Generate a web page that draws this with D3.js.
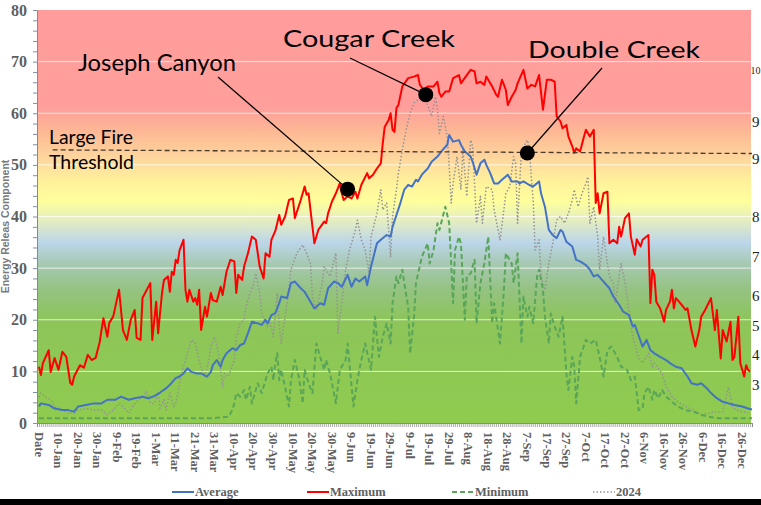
<!DOCTYPE html>
<html>
<head>
<meta charset="utf-8">
<script src="https://cdn.jsdelivr.net/npm/d3@7"></script>
<style>
  html, body { margin: 0; padding: 0; background: #fff; overflow: hidden; }
  svg { display: block; }
</style>
</head>
<body>
<svg id="chart" width="761" height="505"></svg>
<script>
"use strict";

// x labels sit on every 10th day (day 0 = "Date")
const tickLabels = ["Date", "10-Jan", "20-Jan", "30-Jan", "9-Feb", "19-Feb", "1-Mar", "11-Mar", "21-Mar",
  "31-Mar", "10-Apr", "20-Apr", "30-Apr", "10-May", "20-May", "30-May", "9-Jun", "19-Jun", "29-Jun",
  "9-Jul", "19-Jul", "29-Jul", "8-Aug", "18-Aug", "28-Aug", "7-Sep", "17-Sep", "27-Sep", "7-Oct",
  "17-Oct", "27-Oct", "6-Nov", "16-Nov", "26-Nov", "6-Dec", "16-Dec", "26-Dec"];
const yTicks = [0, 10, 20, 30, 40, 50, 60, 70, 80];

// right axis labels as far as they show before the frame cuts them, at their ERC value
const rightLabels = ["10", "9", "9", "8", "7", "6", "5", "4", "3"];
const rightValues = [68.2, 58.3, 51.2, 40.0, 32.2, 24.6, 18.8, 13.3, 7.4];

const threshold = [[7, 52.9], [365, 52.2]];

// [day, ERC]
const maximum = [[0,10.9],[1,9.3],[2,11.6],[5,14.1],[6,9.9],[8,12.6],[10,10.3],[12,13.8],[14,12.8],[16,7.8],
  [17,7.4],[18,9.0],[21,11.2],[23,10.7],[25,13.2],[27,12.2],[29,12.6],[30,14.1],[31,15.5],[33,20.3],[35,16.7],
  [36,19.4],[38,20.6],[41,25.8],[43,18.0],[45,16.1],[47,20.0],[49,21.9],[50,16.5],[52,16.1],[53,24.2],[57,27.1],
  [58,16.1],[60,23.5],[61,17.4],[63,25.2],[64,27.7],[66,28.4],[67,25.4],[68,29.3],[69,28.7],[70,31.6],[71,31.0],
  [72,33.5],[74,35.5],[75,25.8],[76,23.5],[77,25.8],[79,23.5],[80,24.2],[81,22.9],[82,25.8],[83,18.0],[85,22.5],
  [86,20.6],[88,25.2],[89,23.8],[91,23.5],[93,26.4],[94,24.8],[96,29.3],[98,31.6],[100,31.3],[101,25.2],[102,28.7],
  [104,27.7],[105,30.3],[107,32.9],[109,36.1],[111,35.5],[113,30.3],[115,28.0],[116,32.9],[118,32.2],[119,35.5],
  [121,37.2],[123,40.3],[124,38.4],[126,40.0],[128,43.2],[130,43.5],[131,39.7],[134,43.2],[136,45.8],[137,44.2],
  [138,44.5],[141,34.8],[143,37.4],[146,39.0],[147,38.7],[148,40.6],[150,42.9],[152,44.5],[154,46.4],[155,44.5],
  [156,43.2],[158,43.9],[160,43.5],[162,44.8],[163,43.5],[165,46.1],[168,48.4],[169,47.4],[171,48.1],[173,49.3],
  [175,50.3],[176,54.2],[177,57.4],[179,58.7],[180,60.0],[181,56.8],[182,56.4],[183,61.0],[184,61.6],[186,65.2],
  [189,66.8],[192,67.1],[194,67.4],[195,65.5],[197,64.5],[199,65.2],[202,65.2],[204,66.1],[205,63.9],[206,63.2],
  [208,64.2],[210,64.2],[212,66.8],[215,67.4],[216,65.8],[219,67.4],[221,68.4],[223,68.1],[224,65.8],[226,66.1],
  [228,65.5],[229,67.1],[232,65.2],[234,63.6],[235,63.2],[237,66.5],[239,64.5],[240,61.6],[242,63.2],[244,64.5],
  [245,65.8],[248,68.4],[250,64.8],[252,65.5],[254,65.2],[256,67.4],[258,60.7],[260,66.5],[262,66.5],[264,66.1],
  [265,59.4],[267,58.4],[268,57.1],[270,57.7],[271,55.5],[273,53.6],[274,52.3],[275,53.2],[277,52.6],[279,55.5],
  [280,56.8],[282,55.5],[284,56.8],[285,42.6],[286,44.5],[287,40.6],[289,44.5],[291,44.8],[292,34.8],[294,35.5],
  [296,34.8],[297,38.0],[298,36.1],[300,39.7],[302,40.6],[303,36.1],[305,32.6],[306,35.6],[308,34.2],[309,35.5],
  [312,36.4],[313,23.2],[314,29.7],[315,28.7],[316,23.5],[318,22.2],[320,19.6],[321,21.9],[323,23.5],[324,25.8],
  [325,22.2],[326,24.2],[327,23.8],[329,22.9],[331,21.9],[332,22.2],[334,18.0],[336,14.8],[338,18.0],[339,20.6],
  [341,21.9],[344,24.2],[346,18.0],[347,21.9],[349,12.5],[350,18.0],[352,15.8],[354,19.6],[355,12.2],[356,12.8],
  [358,20.6],[359,11.6],[361,9.0],[362,11.2],[363,10.3],[364,9.9]];

const average = [[0,3.2],[1,3.8],[5,3.5],[8,2.8],[12,2.5],[15,2.5],[18,2.2],[20,3.2],[24,3.5],[28,3.8],[32,3.8],
  [35,4.5],[39,4.5],[42,5.1],[46,4.5],[49,4.8],[53,5.1],[56,4.8],[59,5.2],[62,5.9],[65,6.7],[67,7.4],[70,8.7],
  [72,9.0],[74,9.6],[76,10.6],[78,9.9],[81,9.6],[83,9.6],[86,9.0],[88,9.9],[89,11.2],[91,12.2],[93,10.9],[94,12.2],
  [96,13.5],[99,14.5],[101,14.1],[103,15.1],[105,15.4],[107,17.4],[109,19.6],[112,19.3],[114,19.0],[116,20.0],
  [117,19.3],[119,20.9],[121,21.3],[123,23.2],[124,24.5],[127,24.2],[129,27.1],[131,27.4],[134,26.1],[136,25.4],
  [139,23.5],[141,22.2],[144,23.2],[146,22.9],[148,26.1],[151,27.4],[153,27.1],[155,26.4],[158,28.7],[160,26.4],
  [162,28.0],[164,27.4],[167,28.4],[168,26.7],[170,30.3],[173,34.8],[175,35.5],[178,36.4],[180,36.1],[181,38.0],
  [183,40.3],[185,42.6],[187,45.2],[189,46.1],[191,45.8],[193,47.1],[194,46.8],[196,48.1],[199,49.3],[201,50.6],
  [204,51.6],[206,52.6],[209,53.9],[210,55.8],[212,54.5],[215,54.8],[216,53.9],[218,52.6],[221,51.6],[222,50.6],
  [224,48.1],[226,50.3],[228,51.0],[229,50.0],[231,48.4],[233,46.4],[235,46.4],[237,47.1],[240,48.1],[242,46.8],
  [245,46.8],[246,46.4],[248,46.8],[251,46.1],[253,45.8],[256,46.8],[257,44.5],[259,41.9],[261,37.4],[263,36.4],
  [265,35.8],[267,37.4],[268,37.1],[270,35.1],[273,34.2],[275,31.6],[277,31.3],[280,30.6],[282,29.7],[284,28.4],
  [286,28.7],[289,27.4],[292,26.1],[294,24.5],[297,22.9],[299,21.6],[302,20.9],[304,18.7],[305,19.0],[307,16.9],
  [309,14.8],[311,16.1],[313,14.1],[315,13.5],[318,12.8],[321,12.2],[323,11.6],[326,10.9],[329,10.6],[332,9.0],
  [334,7.7],[337,7.4],[339,7.7],[342,6.7],[344,5.8],[347,4.8],[350,4.1],[353,3.8],[356,3.5],[360,3.2],[363,2.8],
  [365,2.6]];

const minimum = [[0,0.9],[12,0.9],[25,0.9],[38,0.9],[50,0.9],[62,0.9],[75,0.9],[88,0.9],[97,1.2],[99,2.5],
  [100,3.8],[101,5.8],[103,5.1],[105,6.4],[106,4.5],[108,7.0],[109,3.8],[111,6.4],[112,7.7],[114,5.8],[116,8.3],
  [117,9.6],[119,10.9],[120,8.3],[121,11.6],[122,13.5],[123,8.3],[124,10.3],[126,7.0],[128,3.2],[129,8.3],
  [131,12.2],[133,9.0],[135,3.8],[136,10.3],[138,7.7],[140,5.8],[142,15.4],[144,12.8],[146,10.3],[147,12.2],
  [149,9.6],[152,3.8],[154,10.3],[157,12.2],[158,15.4],[161,3.2],[163,8.3],[165,12.2],[167,15.4],[170,10.3],
  [172,20.6],[174,12.8],[176,16.7],[178,19.3],[180,15.4],[181,23.2],[183,28.4],[184,27.1],[186,29.7],[187,27.1],
  [189,22.5],[190,13.5],[192,20.6],[193,27.1],[196,32.2],[199,34.8],[200,30.9],[202,33.5],[204,38.7],[205,37.4],
  [208,41.9],[210,38.7],[212,23.2],[213,33.5],[215,36.1],[216,34.8],[218,20.0],[219,28.4],[221,29.0],[223,31.6],
  [224,19.3],[226,27.1],[228,30.9],[230,36.1],[232,19.3],[233,23.2],[236,15.4],[238,25.8],[239,32.9],[242,30.9],
  [243,27.1],[245,32.9],[247,15.4],[248,24.5],[250,20.6],[251,22.5],[253,19.3],[255,28.4],[256,29.7],[258,25.8],
  [259,20.6],[261,15.4],[262,21.2],[264,18.7],[266,16.7],[268,20.6],[270,9.6],[271,6.4],[273,12.8],[274,10.9],
  [275,3.8],[277,12.8],[280,16.1],[282,15.4],[285,16.1],[287,12.8],[289,9.0],[291,14.1],[293,14.8],[296,12.8],
  [298,10.9],[301,10.3],[303,8.3],[305,9.0],[306,5.8],[307,2.5],[309,2.8],[310,5.8],[312,7.0],[314,4.5],[315,6.4],
  [317,4.8],[319,6.4],[321,5.1],[324,4.1],[327,3.2],[331,2.5],[335,2.2],[339,1.6],[343,1.2],[348,0.9],[353,0.9],
  [360,0.9],[365,0.9]];

const year2024 = [[0,5.0],[1,5.8],[3,5.1],[6,4.5],[8,3.2],[12,2.5],[15,1.9],[18,1.9],[20,2.5],[24,2.8],[28,2.5],
  [32,2.5],[35,1.6],[38,2.5],[41,3.8],[43,3.2],[46,1.9],[48,3.2],[51,4.5],[53,5.1],[55,6.1],[57,3.8],[59,3.8],
  [61,5.8],[62,2.8],[64,4.5],[65,2.5],[67,5.8],[69,3.2],[70,3.8],[73,9.6],[76,13.5],[78,16.1],[80,15.4],[82,12.2],
  [83,10.9],[85,9.0],[87,12.2],[88,14.8],[90,16.7],[92,13.5],[94,7.0],[95,9.6],[97,9.0],[100,12.2],[101,16.7],
  [103,19.3],[105,20.0],[106,22.5],[108,25.2],[110,27.1],[111,29.0],[113,25.2],[114,21.2],[117,18.7],[118,20.0],
  [120,16.7],[122,25.2],[123,18.7],[124,15.4],[127,23.2],[129,29.7],[132,32.9],[135,34.5],[137,32.9],[139,30.9],
  [140,24.5],[142,21.9],[145,27.1],[146,30.3],[149,28.4],[152,32.9],[153,17.4],[155,23.2],[157,29.7],[159,33.5],
  [162,37.4],[163,39.3],[165,35.5],[167,33.5],[169,29.0],[170,36.1],[173,40.6],[175,45.2],[176,41.3],[178,42.6],
  [180,32.2],[181,40.0],[183,45.2],[184,48.4],[186,52.9],[188,56.8],[190,60.0],[192,62.0],[195,62.9],[198,62.6],
  [201,59.4],[203,63.2],[204,60.7],[205,56.1],[207,59.4],[209,55.5],[210,49.7],[211,42.6],[212,46.4],[214,51.6],
  [216,45.2],[217,52.9],[219,43.9],[221,54.8],[222,53.6],[224,38.7],[226,43.9],[227,38.7],[229,45.8],[232,45.2],
  [233,41.3],[236,35.5],[238,41.3],[239,44.5],[241,45.8],[243,51.6],[244,50.3],[245,38.7],[247,52.9],[250,54.8],
  [251,53.6],[252,47.7],[253,43.2],[254,33.5],[256,35.5],[257,28.4],[259,25.8],[261,30.9],[263,34.8],[265,39.3],
  [267,40.0],[269,38.7],[271,40.6],[273,43.2],[274,45.2],[276,41.9],[278,44.5],[280,46.4],[281,47.7],[282,38.7],
  [284,41.9],[286,36.1],[287,29.7],[289,36.1],[291,30.9],[292,28.4],[294,27.1],[295,23.2],[297,28.4],[298,30.9],
  [300,27.1],[302,21.9],[304,16.7],[307,12.6],[309,11.6],[312,13.5],[314,10.9],[315,11.6],[319,9.6],[321,7.0],
  [324,5.1],[327,4.1],[331,3.2],[335,2.5],[339,1.6],[343,1.9],[346,2.2],[350,2.2],[353,7.0],[355,3.2],[357,2.5],
  [360,2.2],[363,1.9]];

const fireNames = ["Joseph Canyon", "Cougar Creek", "Double Creek"];
const fireDays = [158, 198, 250];
const fireValues = [45.3, 63.6, 52.3];

const legendNames = ["Average", "Maximum", "Minimum", "2024"];

(function () {
  const svg = d3.select("#chart");
  const L = 37, R = 751, T = 10, B = 423;
  const x = d3.scaleLinear().domain([-1, 365]).range([L, R + 1]);
  const y = d3.scaleLinear().domain([0, 80]).range([B, T]);
  const serif = "'Liberation Serif','Times New Roman',serif";
  const sans = "Lato,'Open Sans',sans-serif";
  const grey = "#5f5f5f";

  // ERC colour bands
  const bands = [[80, "#ff9c9c"], [61, "#ff9f9b"], [57, "#fdb595"], [52, "#fed29c"], [47, "#fff09c"],
    [43, "#ffff9c"], [39, "#e2ecc2"], [35, "#bcd6ea"], [31, "#a7c9b4"], [26, "#95c383"], [20, "#8dc55a"], [0, "#8fcc4e"]];
  const grad = svg.append("defs").append("linearGradient").attr("id", "bg")
    .attr("gradientUnits", "userSpaceOnUse").attr("x1", 0).attr("x2", 0).attr("y1", y(80)).attr("y2", y(0));
  grad.selectAll("stop").data(bands).join("stop")
    .attr("offset", (d) => (80 - d[0]) / 80).attr("stop-color", (d) => d[1]);
  svg.append("rect").attr("x", L).attr("y", T).attr("width", R - L).attr("height", B - T).attr("fill", "url(#bg)");

  svg.append("g").selectAll("line").data(yTicks.filter((v) => v > 0 && v < 80)).join("line")
    .attr("x1", L).attr("x2", R).attr("y1", (d) => y(d)).attr("y2", (d) => y(d))
    .attr("stroke", "#fff").attr("stroke-opacity", 0.75).attr("stroke-width", 1);

  // series
  const line = d3.line().x((d) => x(d[0])).y((d) => y(d[1]));
  const series = [
    { data: year2024, color: "#939393", width: 1.5, dash: "1.5,2" },
    { data: minimum, color: "#5aa55a", width: 2, dash: "5,3" },
    { data: average, color: "#4472c4", width: 2, dash: null },
    { data: maximum, color: "#ff0000", width: 2, dash: null }
  ];
  svg.append("g").selectAll("path").data(series).join("path")
    .attr("d", (d) => line(d.data)).attr("fill", "none")
    .attr("stroke", (d) => d.color).attr("stroke-width", (d) => d.width)
    .attr("stroke-dasharray", (d) => d.dash).attr("stroke-linejoin", "round");

  // large fire threshold
  svg.append("path").attr("d", line(threshold)).attr("fill", "none")
    .attr("stroke", "#4a3b2c").attr("stroke-width", 1.3).attr("stroke-dasharray", "5,3");
  svg.append("text").attr("x", 49).attr("y", 144).attr("font-family", sans).attr("font-size", 20)
    .attr("textLength", 84).attr("lengthAdjust", "spacingAndGlyphs").text("Large Fire");
  svg.append("text").attr("x", 49).attr("y", 169).attr("font-family", sans).attr("font-size", 20)
    .attr("textLength", 85).attr("lengthAdjust", "spacingAndGlyphs").text("Threshold");

  // fire annotations: [text x, text y, text width, leader start x, leader start y]
  const labelPos = [[78, 71, 158, 218, 77], [283, 47, 172, 350, 58], [528, 58, 172, 602, 68]];
  const ann = svg.append("g");
  fireNames.forEach((name, i) => {
    const p = labelPos[i];
    ann.append("line").attr("x1", p[3]).attr("y1", p[4]).attr("x2", x(fireDays[i])).attr("y2", y(fireValues[i]))
      .attr("stroke", "#000").attr("stroke-width", 1.2);
    ann.append("circle").attr("cx", x(fireDays[i])).attr("cy", y(fireValues[i])).attr("r", 7.5).attr("fill", "#000");
    ann.append("text").attr("x", p[0]).attr("y", p[1]).attr("font-family", sans).attr("font-size", 23.5)
      .attr("textLength", p[2]).attr("lengthAdjust", "spacingAndGlyphs").text(name);
  });

  // left axis
  const yAxis = svg.append("g").attr("transform", `translate(${L},0)`)
    .call(d3.axisLeft(y).tickValues(d3.range(0, 81, 2)).tickSize(4).tickFormat(""));
  yAxis.select(".domain").attr("stroke", "#8a8a8a");
  yAxis.selectAll(".tick line").attr("stroke", "#7f8fa8");
  svg.append("g").selectAll("text").data(yTicks).join("text")
    .attr("x", 27).attr("y", (d) => y(d)).attr("dy", "0.35em").attr("text-anchor", "end")
    .attr("font-family", serif).attr("font-weight", "bold").attr("font-size", 16).attr("fill", grey)
    .text((d) => d);
  svg.append("text").attr("transform", `translate(9,${(T + B) / 2 + 10}) rotate(-90)`)
    .attr("text-anchor", "middle").attr("font-family", "'Liberation Sans',Arial,sans-serif")
    .attr("font-weight", "bold").attr("font-size", 10.5).attr("fill", "#7a7a7a").text("Energy Releas Component");

  // bottom axis: a tick per day, a label every 10 days
  const xAxis = svg.append("g").attr("transform", `translate(0,${B})`)
    .call(d3.axisBottom(x).tickValues(d3.range(0, 366)).tickSize(4).tickFormat(""));
  xAxis.select(".domain").attr("stroke", "#8a8a8a");
  xAxis.selectAll(".tick line").attr("stroke", "#8a8a8a").attr("stroke-width", 0.7);
  svg.append("g").selectAll("text").data(tickLabels).join("text")
    .attr("transform", (d, i) => `translate(${x(i * 10)},${B + 9}) rotate(90)`)
    .attr("dy", "0.35em").attr("font-family", serif).attr("font-weight", "bold").attr("font-size", 12.5)
    .attr("fill", grey).text((d) => d);

  // right axis, as much as the frame shows
  svg.append("g").selectAll("text").data(rightLabels).join("text")
    .attr("x", (d) => (d.length > 1 ? 750.5 : 752)).attr("y", (d, i) => y(rightValues[i])).attr("dy", "0.35em")
    .attr("font-family", serif).attr("font-size", (d) => (d.length > 1 ? 10 : 15)).attr("fill", "#222")
    .text((d) => d);

  // legend
  const legX = [172, 307, 452, 593];
  const legStyle = [2, 3, 1, 0];
  const leg = svg.append("g").selectAll("g").data(legendNames).join("g")
    .attr("transform", (d, i) => `translate(${legX[i]},496)`);
  leg.append("line").attr("x1", 0).attr("x2", 22).attr("y1", -4).attr("y2", -4)
    .attr("stroke", (d, i) => series[legStyle[i]].color)
    .attr("stroke-width", (d, i) => series[legStyle[i]].width)
    .attr("stroke-dasharray", (d, i) => series[legStyle[i]].dash);
  leg.append("text").attr("x", 23).attr("y", 0).attr("font-family", serif).attr("font-weight", "bold")
    .attr("font-size", 12.5).attr("fill", grey).text((d) => d);

  svg.append("rect").attr("x", 0).attr("y", 499).attr("width", 761).attr("height", 6).attr("fill", "#000");
})();
</script>
</body>
</html>
